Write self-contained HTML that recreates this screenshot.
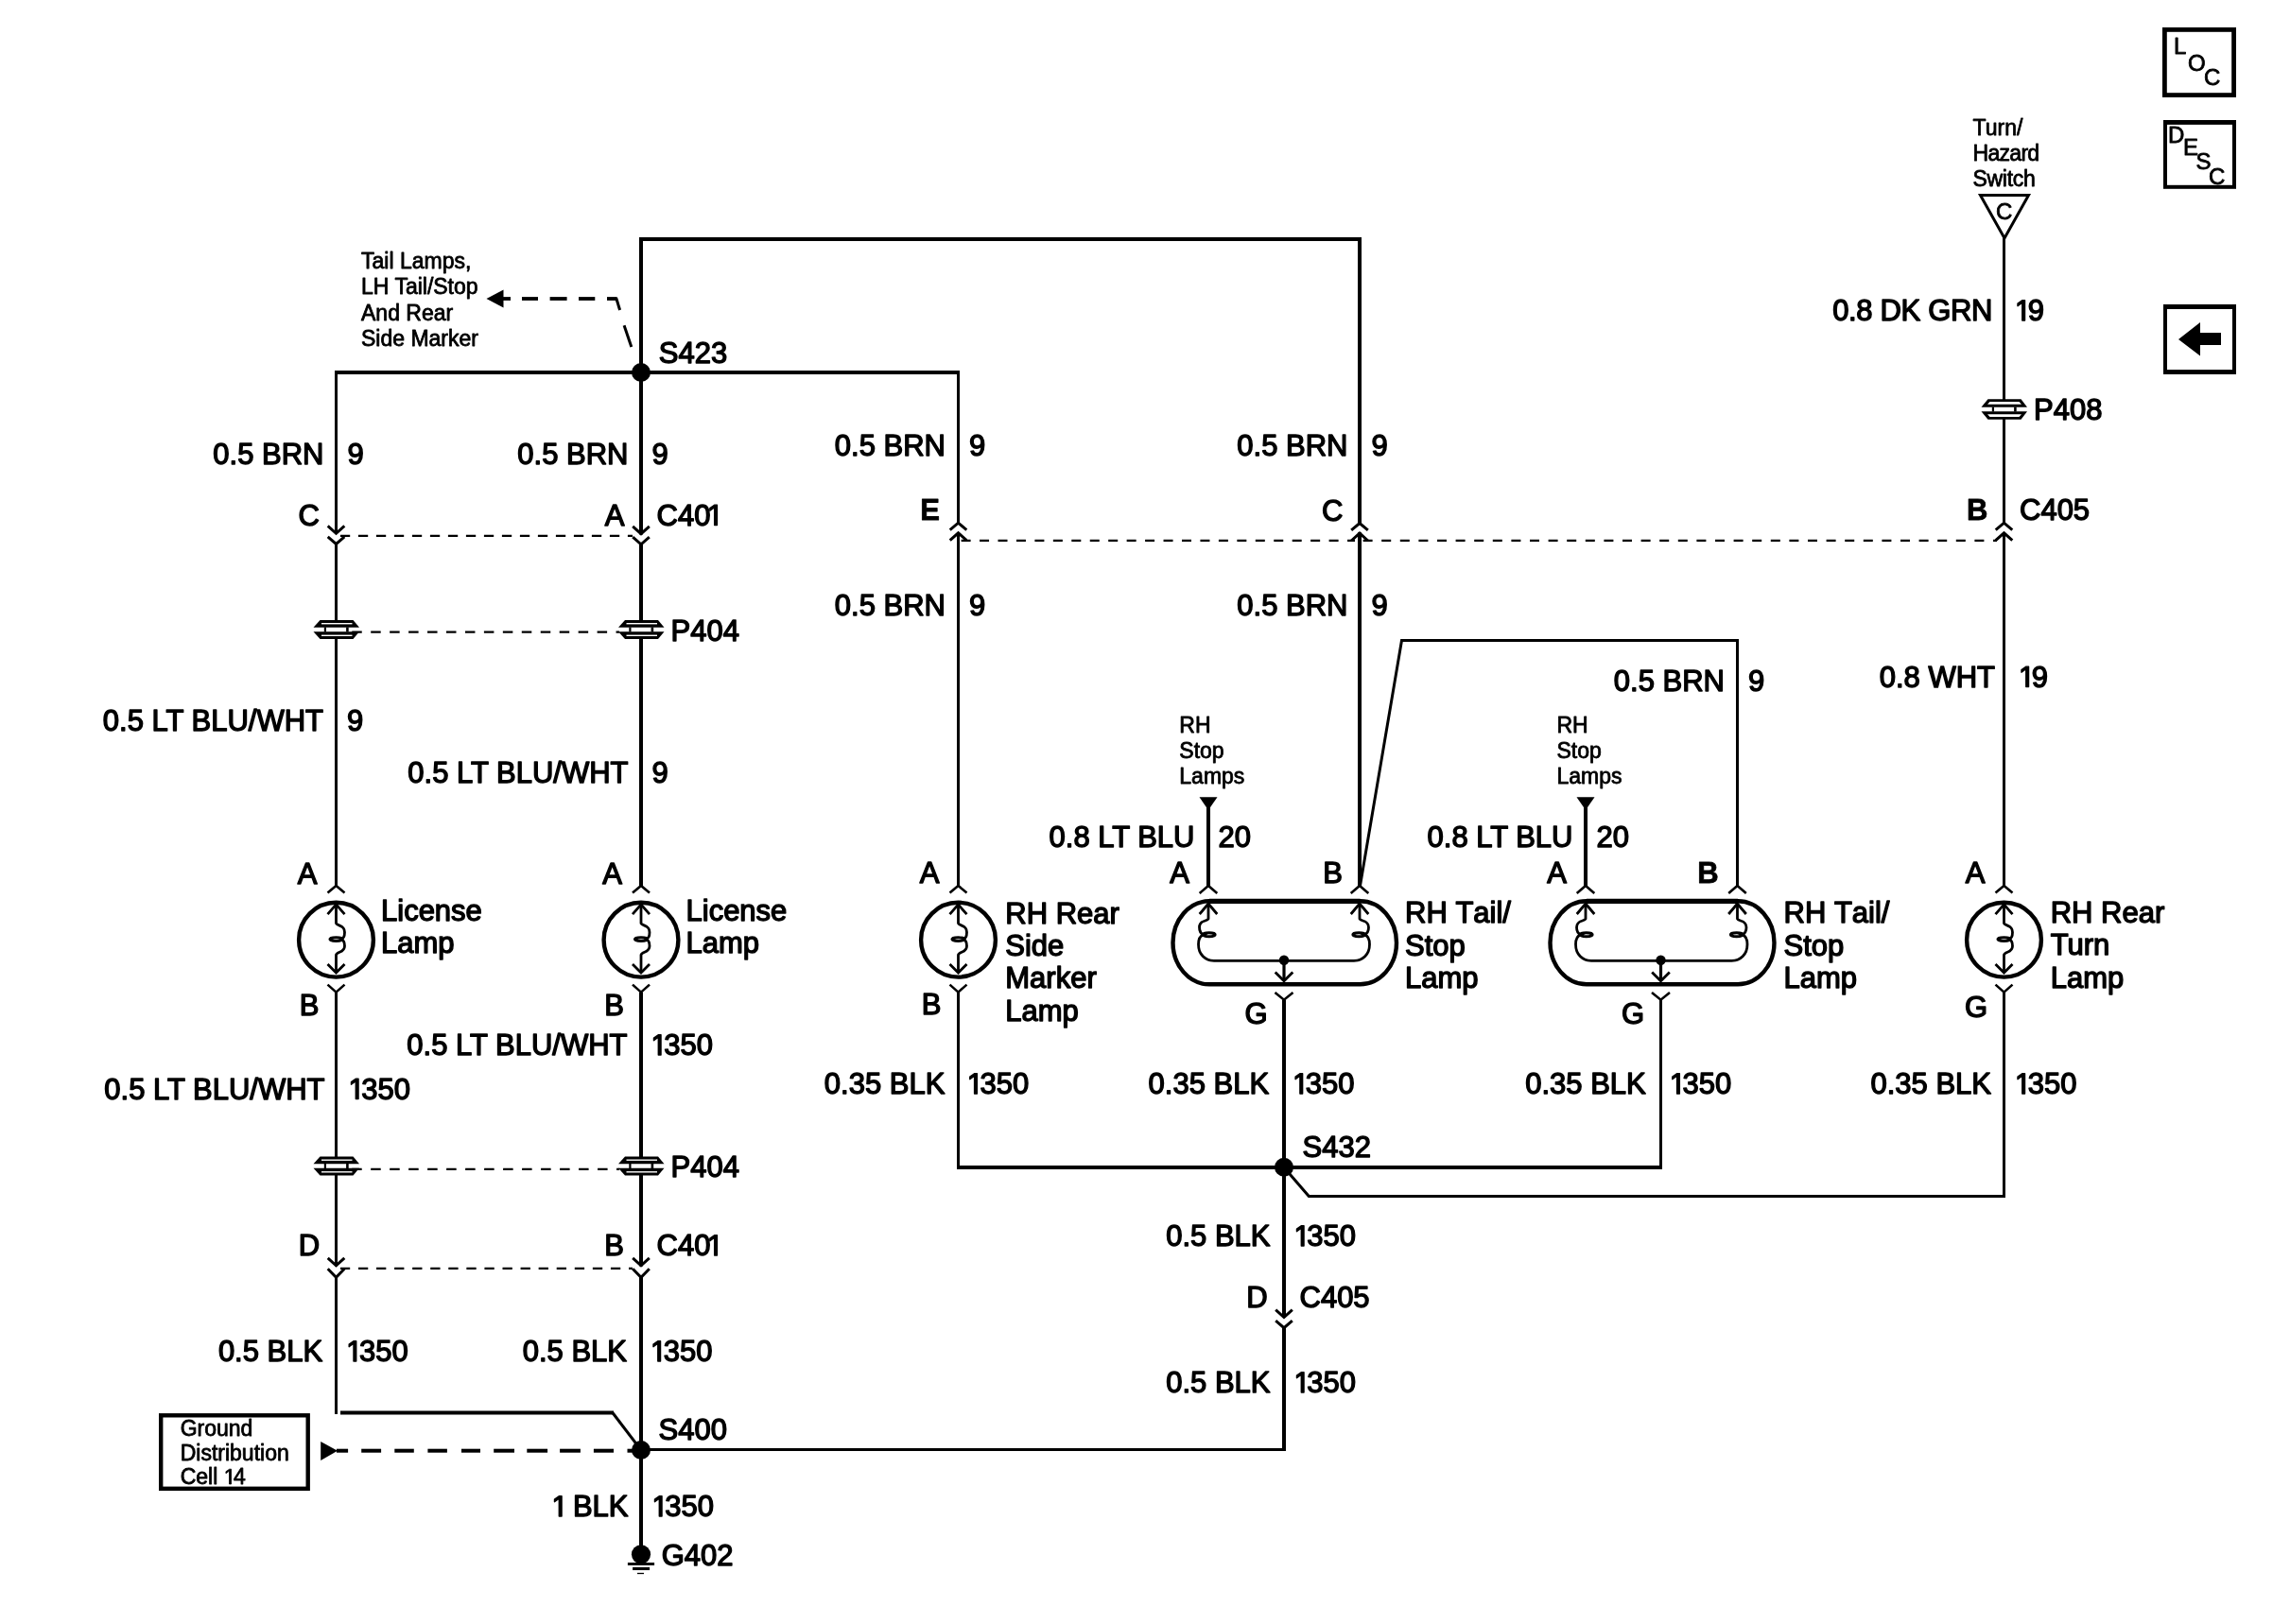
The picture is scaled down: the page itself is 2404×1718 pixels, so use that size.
<!DOCTYPE html>
<html><head><meta charset="utf-8"><title>Wiring Diagram</title>
<style>
html,body{margin:0;padding:0;background:#fff;}
body{width:2404px;height:1718px;}
svg{display:block;will-change:transform;}
svg text{font-family:"Liberation Sans",sans-serif;fill:#000;stroke:#000;stroke-width:1.4px;stroke-linejoin:round;}
svg text.sm{stroke-width:0.8px;}
svg text .one{fill:none;stroke:none;}
</style></head><body>
<svg width="2404" height="1718" viewBox="0 0 2404 1718" fill="none" stroke="#000" stroke-linecap="butt" stroke-linejoin="miter">
<rect x="0" y="0" width="2404" height="1718" fill="#fff" stroke="none"/>
<path d="M678,394 L678,253 L1438,253 L1438,553.8" stroke-width="4" />
<line x1="354.0" y1="394" x2="1015.0" y2="394" stroke-width="4" />
<line x1="678" y1="394" x2="678" y2="565.5" stroke-width="4" />
<line x1="678" y1="575.5" x2="678" y2="656.5" stroke-width="4" />
<line x1="678" y1="675.5" x2="678" y2="937" stroke-width="4" />
<line x1="678" y1="1049.6" x2="678" y2="1224" stroke-width="4" />
<line x1="678" y1="1243" x2="678" y2="1339.5" stroke-width="4" />
<line x1="678" y1="1351" x2="678" y2="1644" stroke-width="4" />
<line x1="1438" y1="563.2" x2="1438" y2="937" stroke-width="4" />
<line x1="1358" y1="1057.7" x2="1358" y2="1394" stroke-width="4" />
<line x1="1358" y1="1404.5" x2="1358" y2="1535" stroke-width="4" />
<line x1="1012.0" y1="1235" x2="1758.0" y2="1235" stroke-width="4" />
<line x1="1278" y1="851" x2="1278" y2="937" stroke-width="4" />
<line x1="1677" y1="851" x2="1677" y2="937" stroke-width="4" />
<line x1="355.5" y1="394" x2="355.5" y2="565" stroke-width="3" />
<line x1="355.5" y1="575.2" x2="355.5" y2="656.5" stroke-width="3" />
<line x1="355.5" y1="675.5" x2="355.5" y2="937" stroke-width="3" />
<line x1="355.5" y1="1049.6" x2="355.5" y2="1224" stroke-width="3" />
<line x1="355.5" y1="1243" x2="355.5" y2="1339.5" stroke-width="3" />
<line x1="355.5" y1="1351" x2="355.5" y2="1496" stroke-width="3" />
<line x1="360" y1="1494.6" x2="649" y2="1494.6" stroke-width="4" />
<line x1="647.5" y1="1494" x2="678" y2="1534" stroke-width="3" />
<line x1="1013.5" y1="394" x2="1013.5" y2="553.5" stroke-width="3" />
<line x1="1013.5" y1="563" x2="1013.5" y2="937" stroke-width="3" />
<line x1="1013.5" y1="1049.6" x2="1013.5" y2="1235" stroke-width="3" />
<line x1="2119.5" y1="250" x2="2119.5" y2="423" stroke-width="3" />
<line x1="2119.5" y1="443" x2="2119.5" y2="553.5" stroke-width="3" />
<line x1="2119.5" y1="563" x2="2119.5" y2="937" stroke-width="3" />
<line x1="2119.5" y1="1049.6" x2="2119.5" y2="1265.5" stroke-width="3" />
<path d="M1358,1235 L1384.3,1265.5 L2121.0,1265.5" stroke-width="3" />
<path d="M1438.5,937 L1482.5,677.5 L1837.5,677.5 L1837.5,937" stroke-width="3" />
<line x1="1756.5" y1="1057.7" x2="1756.5" y2="1235" stroke-width="3" />
<line x1="678" y1="1533.5" x2="1360" y2="1533.5" stroke-width="3" />
<line x1="359.9" y1="566.8" x2="669" y2="566.8" stroke-width="2.2" stroke-dasharray="10.3 8.7"/>
<line x1="359.88" y1="1341.9" x2="669" y2="1341.9" stroke-width="2.2" stroke-dasharray="10.3 8.77"/>
<line x1="372.25" y1="668.7" x2="655" y2="668.7" stroke-width="2.2" stroke-dasharray="10.5 9.45"/>
<line x1="372.2" y1="1236.8" x2="655" y2="1236.8" stroke-width="2.2" stroke-dasharray="10.5 9.49"/>
<line x1="1016.6" y1="571.9" x2="1433" y2="571.9" stroke-width="2.2" stroke-dasharray="10 9.45"/>
<line x1="1441.6" y1="571.9" x2="2112" y2="571.9" stroke-width="2.2" stroke-dasharray="10 9.6"/>
<line x1="355.9" y1="1534.7" x2="368.1" y2="1534.7" stroke-width="4" />
<line x1="382.2" y1="1534.7" x2="403.1" y2="1534.7" stroke-width="4" />
<line x1="417.3" y1="1534.7" x2="437.8" y2="1534.7" stroke-width="4" />
<line x1="452.4" y1="1534.7" x2="472.9" y2="1534.7" stroke-width="4" />
<line x1="488" y1="1534.7" x2="508" y2="1534.7" stroke-width="4" />
<line x1="522.2" y1="1534.7" x2="544" y2="1534.7" stroke-width="4" />
<line x1="557.3" y1="1534.7" x2="579.1" y2="1534.7" stroke-width="4" />
<line x1="592.1" y1="1534.7" x2="613.9" y2="1534.7" stroke-width="4" />
<line x1="627.9" y1="1534.7" x2="649" y2="1534.7" stroke-width="4" />
<line x1="663.5" y1="1534.7" x2="675" y2="1534.7" stroke-width="4" />
<polygon points="339.2,1525 339.2,1545 357,1534.8" fill="#000" stroke="none"/>
<line x1="531" y1="316" x2="540" y2="316" stroke-width="3.8" />
<line x1="552" y1="316" x2="569" y2="316" stroke-width="3.8" />
<line x1="581.6" y1="316" x2="599.6" y2="316" stroke-width="3.8" />
<line x1="612" y1="316" x2="629.3" y2="316" stroke-width="3.8" />
<line x1="642" y1="316" x2="652.5" y2="316" stroke-width="3.8" />
<line x1="651.6" y1="315" x2="655.6" y2="328" stroke-width="3" />
<line x1="660.1" y1="344.3" x2="667.8" y2="367" stroke-width="3" />
<polygon points="514.5,316 532.5,306.5 532.5,325.5" fill="#000" stroke="none"/>
<path d="M346.7,556.4000000000001 L355.5,564.3000000000001 L364.3,556.4000000000001" stroke-width="3" />
<path d="M346.7,567.8000000000001 L355.5,575.4000000000001 L364.3,567.8000000000001" stroke-width="3" />
<path d="M669.2,556.8000000000001 L678,564.7 L686.8,556.8000000000001" stroke-width="3" />
<path d="M669.2,568.2 L678,575.8000000000001 L686.8,568.2" stroke-width="3" />
<path d="M346.7,1330.9 L355.5,1338.8 L364.3,1330.9" stroke-width="3" />
<path d="M346.7,1342.3 L355.5,1351.3 L364.3,1342.3" stroke-width="3" />
<path d="M669.2,1330.9 L678,1338.8 L686.8,1330.9" stroke-width="3" />
<path d="M669.2,1342.3 L678,1351.3 L686.8,1342.3" stroke-width="3" />
<path d="M1349.2,1385.7 L1358,1393.6 L1366.8,1385.7" stroke-width="3" />
<path d="M1349.2,1397.1 L1358,1404.7 L1366.8,1397.1" stroke-width="3" />
<path d="M1004.7,560.6 L1013.5,553.2 L1022.3,560.6" stroke-width="3" />
<path d="M1004.7,571.7 L1013.5,563.8 L1022.3,571.7" stroke-width="3" />
<path d="M1429.2,560.9 L1438,553.5 L1446.8,560.9" stroke-width="3" />
<path d="M1429.2,572.0 L1438,564.0999999999999 L1446.8,572.0" stroke-width="3" />
<path d="M2110.7,560.6 L2119.5,553.2 L2128.3,560.6" stroke-width="3" />
<path d="M2110.7,571.7 L2119.5,563.8 L2128.3,571.7" stroke-width="3" />
<polygon points="338.5,656 373.5,656 380.0,663.7 331.5,663.7" fill="#000" stroke="none"/>
<polygon points="331.5,668.3 380.0,668.3 373.5,676 338.5,676" fill="#000" stroke="none"/>
<rect x="340.0" y="659.0" width="32.5" height="1.4" fill="#fff" stroke="none"/>
<rect x="340.0" y="671.5999999999999" width="32.5" height="1.4" fill="#fff" stroke="none"/>
<rect x="342.8" y="663.5" width="2.2" height="5" fill="#000" stroke="none"/>
<rect x="366.1" y="663.5" width="2.6" height="5" fill="#000" stroke="none"/>
<polygon points="661,656 696,656 702.5,663.7 654,663.7" fill="#000" stroke="none"/>
<polygon points="654,668.3 702.5,668.3 696,676 661,676" fill="#000" stroke="none"/>
<rect x="662.5" y="659.0" width="32.5" height="1.4" fill="#fff" stroke="none"/>
<rect x="662.5" y="671.5999999999999" width="32.5" height="1.4" fill="#fff" stroke="none"/>
<rect x="665.3" y="663.5" width="2.2" height="5" fill="#000" stroke="none"/>
<rect x="688.6" y="663.5" width="2.6" height="5" fill="#000" stroke="none"/>
<polygon points="338.5,1223.5 373.5,1223.5 380.0,1231.2 331.5,1231.2" fill="#000" stroke="none"/>
<polygon points="331.5,1235.8 380.0,1235.8 373.5,1243.5 338.5,1243.5" fill="#000" stroke="none"/>
<rect x="340.0" y="1226.5" width="32.5" height="1.4" fill="#fff" stroke="none"/>
<rect x="340.0" y="1239.1" width="32.5" height="1.4" fill="#fff" stroke="none"/>
<rect x="342.8" y="1231.0" width="2.2" height="5" fill="#000" stroke="none"/>
<rect x="366.1" y="1231.0" width="2.6" height="5" fill="#000" stroke="none"/>
<polygon points="661,1223.5 696,1223.5 702.5,1231.2 654,1231.2" fill="#000" stroke="none"/>
<polygon points="654,1235.8 702.5,1235.8 696,1243.5 661,1243.5" fill="#000" stroke="none"/>
<rect x="662.5" y="1226.5" width="32.5" height="1.4" fill="#fff" stroke="none"/>
<rect x="662.5" y="1239.1" width="32.5" height="1.4" fill="#fff" stroke="none"/>
<rect x="665.3" y="1231.0" width="2.2" height="5" fill="#000" stroke="none"/>
<rect x="688.6" y="1231.0" width="2.6" height="5" fill="#000" stroke="none"/>
<polygon points="2102.5,422.3 2137.5,422.3 2144.0,430.7 2095.5,430.7" fill="#000" stroke="none"/>
<polygon points="2095.5,435.3 2144.0,435.3 2137.5,443.7 2102.5,443.7" fill="#000" stroke="none"/>
<polygon points="2104.5,425.09999999999997 2135.5,425.09999999999997 2138.0,427.7 2102.0,427.7" fill="#fff" stroke="none"/>
<polygon points="2102.0,438.3 2138.0,438.3 2135.5,440.90000000000003 2104.5,440.90000000000003" fill="#fff" stroke="none"/>
<rect x="2106.8" y="430.5" width="2.2" height="5" fill="#000" stroke="none"/>
<rect x="2130.1" y="430.5" width="2.6" height="5" fill="#000" stroke="none"/>
<path d="M346.5,944.6 L355.5,937.0 L364.5,944.6" stroke-width="2.6" />
<circle cx="355.5" cy="994.2" r="39.4" stroke-width="4.4" fill="none"/>
<path d="M346.5,967.2 L355.5,956.9000000000001 L364.5,967.2" stroke-width="2.8" />
<path d="M355.5,956.9000000000001 L355.5,976.7 C356.5,979.7 364.5,978.2 364.5,986.2 C364.5,991.2 362.5,993.2 360.5,993.6 C363.5,994.2 364.5,997.2 364.5,1000.7 C364.5,1008.2 356.5,1006.2 355.5,1010.2 L355.5,1028.7" stroke-width="2.8" />
<ellipse cx="355.5" cy="993.6" rx="6.6" ry="1.9" stroke-width="2.9" fill="none"/>
<path d="M346.5,1020.0 L355.5,1029.0 L364.5,1020.0" stroke-width="2.8" />
<path d="M346.5,1041.6000000000001 L355.5,1049.6000000000001 L364.5,1041.6000000000001" stroke-width="2.6" />
<path d="M669,944.6 L678,937.0 L687,944.6" stroke-width="2.6" />
<circle cx="678" cy="994.2" r="39.4" stroke-width="4.4" fill="none"/>
<path d="M669,967.2 L678,956.9000000000001 L687,967.2" stroke-width="2.8" />
<path d="M678,956.9000000000001 L678,976.7 C679,979.7 687,978.2 687,986.2 C687,991.2 685,993.2 683,993.6 C686,994.2 687,997.2 687,1000.7 C687,1008.2 679,1006.2 678,1010.2 L678,1028.7" stroke-width="2.8" />
<ellipse cx="678" cy="993.6" rx="6.6" ry="1.9" stroke-width="2.9" fill="none"/>
<path d="M669,1020.0 L678,1029.0 L687,1020.0" stroke-width="2.8" />
<path d="M669,1041.6000000000001 L678,1049.6000000000001 L687,1041.6000000000001" stroke-width="2.6" />
<path d="M1004.5,944.6 L1013.5,937.0 L1022.5,944.6" stroke-width="2.6" />
<circle cx="1013.5" cy="994.2" r="39.4" stroke-width="4.4" fill="none"/>
<path d="M1004.5,967.2 L1013.5,956.9000000000001 L1022.5,967.2" stroke-width="2.8" />
<path d="M1013.5,956.9000000000001 L1013.5,976.7 C1014.5,979.7 1022.5,978.2 1022.5,986.2 C1022.5,991.2 1020.5,993.2 1018.5,993.6 C1021.5,994.2 1022.5,997.2 1022.5,1000.7 C1022.5,1008.2 1014.5,1006.2 1013.5,1010.2 L1013.5,1028.7" stroke-width="2.8" />
<ellipse cx="1013.5" cy="993.6" rx="6.6" ry="1.9" stroke-width="2.9" fill="none"/>
<path d="M1004.5,1020.0 L1013.5,1029.0 L1022.5,1020.0" stroke-width="2.8" />
<path d="M1004.5,1041.6000000000001 L1013.5,1049.6000000000001 L1022.5,1041.6000000000001" stroke-width="2.6" />
<path d="M2110.5,944.6 L2119.5,937.0 L2128.5,944.6" stroke-width="2.6" />
<circle cx="2119.5" cy="994.2" r="39.4" stroke-width="4.4" fill="none"/>
<path d="M2110.5,967.2 L2119.5,956.9000000000001 L2128.5,967.2" stroke-width="2.8" />
<path d="M2119.5,956.9000000000001 L2119.5,976.7 C2120.5,979.7 2128.5,978.2 2128.5,986.2 C2128.5,991.2 2126.5,993.2 2124.5,993.6 C2127.5,994.2 2128.5,997.2 2128.5,1000.7 C2128.5,1008.2 2120.5,1006.2 2119.5,1010.2 L2119.5,1028.7" stroke-width="2.8" />
<ellipse cx="2119.5" cy="993.6" rx="6.6" ry="1.9" stroke-width="2.9" fill="none"/>
<path d="M2110.5,1020.0 L2119.5,1029.0 L2128.5,1020.0" stroke-width="2.8" />
<path d="M2110.5,1041.6000000000001 L2119.5,1049.6000000000001 L2128.5,1041.6000000000001" stroke-width="2.6" />
<path d="M1279,953.3 L1438.5,953.3 A38.5 44.0 0 0 1 1438.5,1041.3 L1279,1041.3 A38.5 44.0 0 0 1 1279,953.3 Z" stroke-width="4.4" />
<line x1="1279" y1="953.3" x2="1438.5" y2="953.3" stroke-width="5.2" />
<path d="M1268.7,945 L1278,937 L1287.3,945" stroke-width="2.6" />
<path d="M1268.7,967 L1278,956 L1287.3,967" stroke-width="2.8" />
<path d="M1428.7,945 L1438,937 L1447.3,945" stroke-width="2.6" />
<path d="M1428.7,967 L1438,956 L1447.3,967" stroke-width="2.8" />
<path d="M1278,956 L1278,972 C1277,975 1268.5,973 1268.5,981 C1268.5,986 1271,988 1273,988.6 C1269,990 1267.5,995 1267.5,999 C1267.5,1010 1275,1016.4 1284,1016.4 L1358,1016.4" stroke-width="2.8" />
<ellipse cx="1278.8" cy="988.7" rx="6.4" ry="2" stroke-width="2.9" fill="none"/>
<path d="M1438,956 L1438,972 C1439,975 1447.5,973 1447.5,981 C1447.5,986 1445,988 1443,988.6 C1447,990 1448.5,995 1448.5,999 C1448.5,1010 1441,1016.4 1432,1016.4 L1358,1016.4" stroke-width="2.8" />
<ellipse cx="1437.2" cy="988.7" rx="6.4" ry="2" stroke-width="2.9" fill="none"/>
<circle cx="1358" cy="1015.8" r="5.2" fill="#000" stroke="none"/>
<line x1="1358" y1="1016" x2="1358" y2="1037.5" stroke-width="3.2" />
<path d="M1348.7,1028.5 L1358,1037.8 L1367.3,1028.5" stroke-width="2.8" />
<path d="M1348.5,1050 L1358,1057.7 L1367.5,1050" stroke-width="2.6" />
<path d="M1678,953.3 L1838.0,953.3 A38.5 44.0 0 0 1 1838.0,1041.3 L1678,1041.3 A38.5 44.0 0 0 1 1678,953.3 Z" stroke-width="4.4" />
<line x1="1678" y1="953.3" x2="1838.0" y2="953.3" stroke-width="5.2" />
<path d="M1667.7,945 L1677,937 L1686.3,945" stroke-width="2.6" />
<path d="M1667.7,967 L1677,956 L1686.3,967" stroke-width="2.8" />
<path d="M1828.2,945 L1837.5,937 L1846.8,945" stroke-width="2.6" />
<path d="M1828.2,967 L1837.5,956 L1846.8,967" stroke-width="2.8" />
<path d="M1677,956 L1677,972 C1676,975 1667.5,973 1667.5,981 C1667.5,986 1670,988 1672,988.6 C1668,990 1666.5,995 1666.5,999 C1666.5,1010 1674,1016.4 1683,1016.4 L1756.5,1016.4" stroke-width="2.8" />
<ellipse cx="1677.8" cy="988.7" rx="6.4" ry="2" stroke-width="2.9" fill="none"/>
<path d="M1837.5,956 L1837.5,972 C1838.5,975 1847.0,973 1847.0,981 C1847.0,986 1844.5,988 1842.5,988.6 C1846.5,990 1848.0,995 1848.0,999 C1848.0,1010 1840.5,1016.4 1831.5,1016.4 L1756.5,1016.4" stroke-width="2.8" />
<ellipse cx="1836.7" cy="988.7" rx="6.4" ry="2" stroke-width="2.9" fill="none"/>
<circle cx="1756.5" cy="1015.8" r="5.2" fill="#000" stroke="none"/>
<line x1="1756.5" y1="1016" x2="1756.5" y2="1037.5" stroke-width="3.2" />
<path d="M1747.2,1028.5 L1756.5,1037.8 L1765.8,1028.5" stroke-width="2.8" />
<path d="M1747.0,1050 L1756.5,1057.7 L1766.0,1050" stroke-width="2.6" />
<circle cx="678" cy="394" r="10" fill="#000" stroke="none"/>
<circle cx="1358" cy="1234.7" r="10" fill="#000" stroke="none"/>
<circle cx="678" cy="1534" r="10" fill="#000" stroke="none"/>
<circle cx="678" cy="1644.3" r="10.1" fill="#000" stroke="none"/>
<line x1="663.9" y1="1654.5" x2="692.1" y2="1654.5" stroke-width="2.9" />
<line x1="669.1" y1="1659.5" x2="687.1" y2="1659.5" stroke-width="3.1" />
<line x1="674" y1="1664.5" x2="681" y2="1664.5" stroke-width="1.3" />
<polygon points="1268.5,843.3 1287.5,843.3 1278,857" fill="#000" stroke="none"/>
<polygon points="1667.5,843.3 1686.5,843.3 1677,857" fill="#000" stroke="none"/>
<polygon points="2094.5,206.4 2145.5,206.4 2120,252" fill="none" stroke-width="3"/>
<text x="2119.7" y="232" font-size="24" text-anchor="middle"  class="sm">C</text>
<rect x="2289.4" y="31.4" width="73.2" height="69.2" fill="none" stroke-width="4.8"/>
<rect x="2290" y="129.4" width="73" height="68.4" fill="none" stroke-width="4"/>
<rect x="2290" y="324.4" width="73" height="69.2" fill="none" stroke-width="4"/>
<rect x="2288" y="322" width="77" height="5" fill="#000" stroke="none"/>
<rect x="2288" y="391.2" width="77" height="4.8" fill="#000" stroke="none"/>
<rect x="2288" y="127" width="77" height="4.8" fill="#000" stroke="none"/>
<polygon points="2304,359 2327,341 2327,352 2349,352 2349,365 2327,365 2327,376.5" fill="#000" stroke="none"/>
<text x="2299" y="56.5" font-size="24"  class="sm">L</text>
<text x="2314" y="74.8" font-size="24"  class="sm">O</text>
<text x="2331" y="90.4" font-size="24"  class="sm">C</text>
<text x="2293" y="150.6" font-size="24"  class="sm">D</text>
<text x="2309" y="163.6" font-size="24"  class="sm">E</text>
<text x="2322.6" y="178.6" font-size="24"  class="sm">S</text>
<text x="2336" y="194.6" font-size="24"  class="sm">C</text>
<rect x="170.2" y="1497.3" width="155.5" height="77.5" fill="none" stroke-width="4.4"/>
<text x="342.5" y="491" font-size="31" text-anchor="end" >0.5 BRN</text>
<text x="367.5" y="491" font-size="31" >9</text>
<text x="664.5" y="491" font-size="31" text-anchor="end" >0.5 BRN</text>
<text x="689.5" y="491" font-size="31" >9</text>
<text x="1000.0" y="482" font-size="31" text-anchor="end" >0.5 BRN</text>
<text x="1025.0" y="482" font-size="31" >9</text>
<text x="1425.5" y="482" font-size="31" text-anchor="end" >0.5 BRN</text>
<text x="1450.5" y="482" font-size="31" >9</text>
<text x="1000.0" y="651" font-size="31" text-anchor="end" >0.5 BRN</text>
<text x="1025.0" y="651" font-size="31" >9</text>
<text x="1425.5" y="651" font-size="31" text-anchor="end" >0.5 BRN</text>
<text x="1450.5" y="651" font-size="31" >9</text>
<text x="1824.0" y="731" font-size="31" text-anchor="end" >0.5 BRN</text>
<text x="1849.0" y="731" font-size="31" >9</text>
<text x="342.0" y="773" font-size="31" text-anchor="end" >0.5 LT BLU/WHT</text>
<text x="367.0" y="773" font-size="31" >9</text>
<text x="664.5" y="828" font-size="31" text-anchor="end" >0.5 LT BLU/WHT</text>
<text x="689.5" y="828" font-size="31" >9</text>
<text x="663.5" y="1116" font-size="31" text-anchor="end" >0.5 LT BLU/WHT</text>
<text x="688.5" y="1116" font-size="31" ><tspan class="one">1</tspan><tspan dx="-3.5">3</tspan>50</text>
<text x="343.5" y="1162.5" font-size="31" text-anchor="end" >0.5 LT BLU/WHT</text>
<text x="368.5" y="1162.5" font-size="31" ><tspan class="one">1</tspan><tspan dx="-3.5">3</tspan>50</text>
<text x="341.2" y="1440" font-size="31" text-anchor="end" >0.5 BLK</text>
<text x="366.2" y="1440" font-size="31" ><tspan class="one">1</tspan><tspan dx="-3.5">3</tspan>50</text>
<text x="663.0" y="1440" font-size="31" text-anchor="end" >0.5 BLK</text>
<text x="688.0" y="1440" font-size="31" ><tspan class="one">1</tspan><tspan dx="-3.5">3</tspan>50</text>
<text x="664.5" y="1604" font-size="31" text-anchor="end" ><tspan class="one">1</tspan><tspan dx="-3.5"> </tspan>BLK</text>
<text x="689.5" y="1604" font-size="31" ><tspan class="one">1</tspan><tspan dx="-3.5">3</tspan>50</text>
<text x="999.4" y="1157" font-size="31" text-anchor="end" >0.35 BLK</text>
<text x="1022.8" y="1157" font-size="31" ><tspan class="one">1</tspan><tspan dx="-3.5">3</tspan>50</text>
<text x="1342.1" y="1157" font-size="31" text-anchor="end" >0.35 BLK</text>
<text x="1367.1" y="1157" font-size="31" ><tspan class="one">1</tspan><tspan dx="-3.5">3</tspan>50</text>
<text x="1740.8" y="1157" font-size="31" text-anchor="end" >0.35 BLK</text>
<text x="1765.8" y="1157" font-size="31" ><tspan class="one">1</tspan><tspan dx="-3.5">3</tspan>50</text>
<text x="2106.0" y="1157" font-size="31" text-anchor="end" >0.35 BLK</text>
<text x="2131.0" y="1157" font-size="31" ><tspan class="one">1</tspan><tspan dx="-3.5">3</tspan>50</text>
<text x="1343.5" y="1318" font-size="31" text-anchor="end" >0.5 BLK</text>
<text x="1368.5" y="1318" font-size="31" ><tspan class="one">1</tspan><tspan dx="-3.5">3</tspan>50</text>
<text x="1343.5" y="1473" font-size="31" text-anchor="end" >0.5 BLK</text>
<text x="1368.5" y="1473" font-size="31" ><tspan class="one">1</tspan><tspan dx="-3.5">3</tspan>50</text>
<text x="1263.5" y="896" font-size="31" text-anchor="end" >0.8 LT BLU</text>
<text x="1288.5" y="896" font-size="31" >20</text>
<text x="1663.5" y="896" font-size="31" text-anchor="end" >0.8 LT BLU</text>
<text x="1688.5" y="896" font-size="31" >20</text>
<text x="2107.0" y="339" font-size="31" text-anchor="end" letter-spacing="-0.35">0.8 DK GRN</text>
<text x="2131.0" y="339" font-size="31" ><tspan class="one">1</tspan><tspan dx="-3.5">9</tspan></text>
<text x="2110.0" y="726.5" font-size="31" text-anchor="end" >0.8 WHT</text>
<text x="2135.0" y="726.5" font-size="31" ><tspan class="one">1</tspan><tspan dx="-3.5">9</tspan></text>
<text x="337.8" y="555.5" font-size="31" text-anchor="end" >C</text>
<text x="660.5" y="555.5" font-size="31" text-anchor="end" >A</text>
<text x="694.5" y="555.5" font-size="31" >C40<tspan class="one" dx="-3.5">1</tspan></text>
<text x="994.0" y="550.3" font-size="31" text-anchor="end" font-weight="bold" style="stroke-width:0.8px">E</text>
<text x="1420.3" y="550.6" font-size="31" text-anchor="end" >C</text>
<text x="2102.5" y="550" font-size="31" text-anchor="end" font-weight="bold" style="stroke-width:0.8px">B</text>
<text x="2136.0" y="550" font-size="31" >C405</text>
<text x="709.5" y="677.5" font-size="31" >P404</text>
<text x="709.5" y="1245" font-size="31" >P404</text>
<text x="2151.0" y="443.8" font-size="31" >P408</text>
<text x="335.5" y="935" font-size="31" text-anchor="end" >A</text>
<text x="658" y="935" font-size="31" text-anchor="end" >A</text>
<text x="993.5" y="933.5" font-size="31" text-anchor="end" >A</text>
<text x="1258" y="933.5" font-size="31" text-anchor="end" >A</text>
<text x="1420" y="933.5" font-size="31" text-anchor="end" >B</text>
<text x="1657" y="933.5" font-size="31" text-anchor="end" >A</text>
<text x="1817.7" y="933.5" font-size="31" text-anchor="end" font-weight="bold" style="stroke-width:0.8px">B</text>
<text x="2099.5" y="933.5" font-size="31" text-anchor="end" >A</text>
<text x="337.5" y="1074" font-size="31" text-anchor="end" >B</text>
<text x="660" y="1074" font-size="31" text-anchor="end" >B</text>
<text x="995.5" y="1073" font-size="31" text-anchor="end" >B</text>
<text x="1340.5" y="1082.5" font-size="31" text-anchor="end" >G</text>
<text x="1739.0" y="1082.5" font-size="31" text-anchor="end" >G</text>
<text x="2102.0" y="1076" font-size="31" text-anchor="end" >G</text>
<text x="338.1" y="1328" font-size="31" text-anchor="end" >D</text>
<text x="660" y="1328" font-size="31" text-anchor="end" >B</text>
<text x="694.5" y="1328" font-size="31" >C40<tspan class="one" dx="-3.5">1</tspan></text>
<text x="1340.6" y="1382.5" font-size="31" text-anchor="end" >D</text>
<text x="1374.5" y="1382.5" font-size="31" >C405</text>
<text x="696.8" y="383.8" font-size="31" >S423</text>
<text x="1377.5" y="1224" font-size="31" >S432</text>
<text x="696.6" y="1523" font-size="31" >S400</text>
<text x="699.7" y="1655.6" font-size="31" >G402</text>
<text x="403.0" y="973.6" font-size="31" >License</text>
<text x="403.0" y="1008" font-size="31" >Lamp</text>
<text x="725.5" y="973.6" font-size="31" >License</text>
<text x="725.5" y="1008" font-size="31" >Lamp</text>
<text x="1063.3" y="976.6" font-size="31" >RH Rear</text>
<text x="1063.3" y="1011.4" font-size="31" >Side</text>
<text x="1063.3" y="1045.1" font-size="31" >Marker</text>
<text x="1063.3" y="1079.8" font-size="31" >Lamp</text>
<text x="1486" y="976.2" font-size="31" style="font-kerning:none">RH Tail/</text>
<text x="1886.5" y="976.2" font-size="31" style="font-kerning:none">RH Tail/</text>
<text x="1486" y="1010.8" font-size="31" style="font-kerning:none">Stop</text>
<text x="1886.5" y="1010.8" font-size="31" style="font-kerning:none">Stop</text>
<text x="1486" y="1044.5" font-size="31" style="font-kerning:none">Lamp</text>
<text x="1886.5" y="1044.5" font-size="31" style="font-kerning:none">Lamp</text>
<text x="2168.7" y="976.0" font-size="31" >RH Rear</text>
<text x="2168.7" y="1010.3" font-size="31" >Turn</text>
<text x="2168.7" y="1044.6" font-size="31" >Lamp</text>
<text x="382" y="283.8" font-size="23"  class="sm">Tail Lamps,</text>
<text x="382" y="311.2" font-size="23"  class="sm">LH Tail/Stop</text>
<text x="382" y="338.6" font-size="23"  class="sm">And Rear</text>
<text x="382" y="366.0" font-size="23"  class="sm">Side Marker</text>
<text x="1247.3" y="775.0" font-size="23"  class="sm">RH</text>
<text x="1646.5" y="775.0" font-size="23"  class="sm">RH</text>
<text x="1247.3" y="802.2" font-size="23"  class="sm">Stop</text>
<text x="1646.5" y="802.2" font-size="23"  class="sm">Stop</text>
<text x="1247.3" y="829.4" font-size="23"  class="sm">Lamps</text>
<text x="1646.5" y="829.4" font-size="23"  class="sm">Lamps</text>
<text x="2086.5" y="142.8" font-size="23" letter-spacing="0" class="sm">Turn/</text>
<text x="2086.5" y="170.0" font-size="23" letter-spacing="-0.7" class="sm">Hazard</text>
<text x="2086.5" y="197.20000000000002" font-size="23" letter-spacing="-0.3" class="sm">Switch</text>
<text x="190.7" y="1518.5" font-size="23"  class="sm">Ground</text>
<text x="190.7" y="1545.2" font-size="23"  class="sm">Distribution</text>
<text x="190.7" y="1570" font-size="23"  class="sm">Cell <tspan class="one">1</tspan><tspan dx="-2.6">4</tspan></text>
<path d="M696.30,1116.00 L696.30,1097.28 L691.48,1100.71 L691.48,1098.14 L696.52,1094.67 L699.04,1094.67 L699.04,1116.00Z" fill="#000" stroke="#000" stroke-width="1.4" stroke-linejoin="round"/>
<path d="M376.30,1162.50 L376.30,1143.78 L371.48,1147.21 L371.48,1144.64 L376.52,1141.17 L379.04,1141.17 L379.04,1162.50Z" fill="#000" stroke="#000" stroke-width="1.4" stroke-linejoin="round"/>
<path d="M374.00,1440.00 L374.00,1421.28 L369.18,1424.71 L369.18,1422.14 L374.22,1418.67 L376.74,1418.67 L376.74,1440.00Z" fill="#000" stroke="#000" stroke-width="1.4" stroke-linejoin="round"/>
<path d="M695.80,1440.00 L695.80,1421.28 L690.98,1424.71 L690.98,1422.14 L696.02,1418.67 L698.54,1418.67 L698.54,1440.00Z" fill="#000" stroke="#000" stroke-width="1.4" stroke-linejoin="round"/>
<path d="M591.31,1604.00 L591.31,1585.28 L586.50,1588.71 L586.50,1586.14 L591.54,1582.67 L594.05,1582.67 L594.05,1604.00Z" fill="#000" stroke="#000" stroke-width="1.4" stroke-linejoin="round"/>
<path d="M697.30,1604.00 L697.30,1585.28 L692.48,1588.71 L692.48,1586.14 L697.52,1582.67 L700.04,1582.67 L700.04,1604.00Z" fill="#000" stroke="#000" stroke-width="1.4" stroke-linejoin="round"/>
<path d="M1030.60,1157.00 L1030.60,1138.28 L1025.78,1141.71 L1025.78,1139.14 L1030.82,1135.67 L1033.34,1135.67 L1033.34,1157.00Z" fill="#000" stroke="#000" stroke-width="1.4" stroke-linejoin="round"/>
<path d="M1374.90,1157.00 L1374.90,1138.28 L1370.08,1141.71 L1370.08,1139.14 L1375.12,1135.67 L1377.64,1135.67 L1377.64,1157.00Z" fill="#000" stroke="#000" stroke-width="1.4" stroke-linejoin="round"/>
<path d="M1773.60,1157.00 L1773.60,1138.28 L1768.78,1141.71 L1768.78,1139.14 L1773.82,1135.67 L1776.34,1135.67 L1776.34,1157.00Z" fill="#000" stroke="#000" stroke-width="1.4" stroke-linejoin="round"/>
<path d="M2138.80,1157.00 L2138.80,1138.28 L2133.98,1141.71 L2133.98,1139.14 L2139.02,1135.67 L2141.54,1135.67 L2141.54,1157.00Z" fill="#000" stroke="#000" stroke-width="1.4" stroke-linejoin="round"/>
<path d="M1376.30,1318.00 L1376.30,1299.28 L1371.48,1302.71 L1371.48,1300.14 L1376.52,1296.67 L1379.04,1296.67 L1379.04,1318.00Z" fill="#000" stroke="#000" stroke-width="1.4" stroke-linejoin="round"/>
<path d="M1376.30,1473.00 L1376.30,1454.28 L1371.48,1457.71 L1371.48,1455.14 L1376.52,1451.67 L1379.04,1451.67 L1379.04,1473.00Z" fill="#000" stroke="#000" stroke-width="1.4" stroke-linejoin="round"/>
<path d="M2138.80,339.00 L2138.80,320.28 L2133.98,323.71 L2133.98,321.14 L2139.02,317.67 L2141.54,317.67 L2141.54,339.00Z" fill="#000" stroke="#000" stroke-width="1.4" stroke-linejoin="round"/>
<path d="M2142.80,726.50 L2142.80,707.78 L2137.98,711.21 L2137.98,708.64 L2143.02,705.17 L2145.54,705.17 L2145.54,726.50Z" fill="#000" stroke="#000" stroke-width="1.4" stroke-linejoin="round"/>
<path d="M755.67,555.50 L755.67,536.78 L750.86,540.21 L750.86,537.64 L755.90,534.17 L758.41,534.17 L758.41,555.50Z" fill="#000" stroke="#000" stroke-width="1.4" stroke-linejoin="round"/>
<path d="M755.67,1328.00 L755.67,1309.28 L750.86,1312.71 L750.86,1310.14 L755.90,1306.67 L758.41,1306.67 L758.41,1328.00Z" fill="#000" stroke="#000" stroke-width="1.4" stroke-linejoin="round"/>
<path d="M242.50,1570.00 L242.50,1556.11 L238.93,1558.66 L238.93,1556.75 L242.67,1554.18 L244.53,1554.18 L244.53,1570.00Z" fill="#000" stroke="#000" stroke-width="0.8" stroke-linejoin="round"/>
</svg>
</body></html>
